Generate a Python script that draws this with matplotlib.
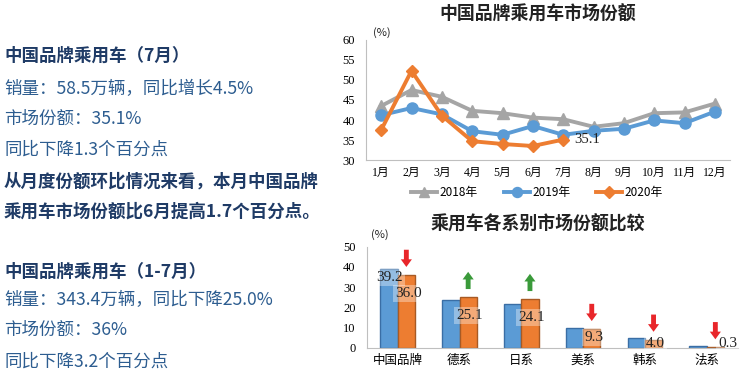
import numpy as np
import matplotlib
matplotlib.use('Agg')
import matplotlib.pyplot as plt

plt.rcParams['font.family'] = ['Noto Sans CJK SC', 'DejaVu Sans']

# ---- data ----
months = ['1月', '2月', '3月', '4月', '5月', '6月', '7月', '8月', '9月', '10月', '11月', '12月']
share_2018 = [43.5, 47.5, 45.8, 42.3, 41.7, 40.6, 40.2, 38.3, 39.2, 41.7, 41.9, 44.1]
share_2019 = [41.2, 43.0, 41.4, 37.2, 36.3, 38.5, 36.3, 37.3, 37.8, 39.9, 39.2, 42.1]
share_2020 = [37.5, 52.3, 41.1, 34.7, 34.0, 33.5, 35.1]

series_names = ['2018年', '2019年', '2020年']

brands = ['中国品牌', '德系', '日系', '美系', '韩系', '法系']
brand_2019 = [39.2, 23.8, 21.8, 9.7, 4.8, 1.1]
brand_2020 = [36.0, 25.1, 24.1, 9.3, 4.0, 0.3]

text_lines = [
    ('中国品牌乘用车（7月）', True),
    ('销量：58.5万辆，同比增长4.5%', False),
    ('市场份额：35.1%', False),
    ('同比下降1.3个百分点', False),
    ('从月度份额环比情况来看，本月中国品牌', True),
    ('乘用车市场份额比6月提高1.7个百分点。', True),
    ('中国品牌乘用车（1-7月）', True),
    ('销量：343.4万辆，同比下降25.0%', False),
    ('市场份额：36%', False),
    ('同比下降3.2个百分点', False),
]
text_y = [56, 89, 119, 150, 182, 212, 272, 300, 330, 362]

gray = '#a5a5a5'
blue = '#5b9bd5'
orange = '#ed7d31'
serif = ['Liberation Serif', 'Noto Sans CJK SC']

W, H = 744, 375
fig = plt.figure(figsize=(W / 100, H / 100), dpi=100)
fig.patch.set_facecolor('white')

# ---- left text block ----
for (s, bold), py in zip(text_lines, text_y):
    fig.text(4 / W, 1 - py / H, s, fontsize=12.6,
             fontweight='bold' if bold else 'normal',
             color='#1f3b66' if bold else '#2d5d90', va='center', ha='left')

# ---- top chart: monthly share ----
ax1 = fig.add_axes([366 / W, 1 - 160 / H, 364 / W, 120 / H])
x = np.arange(len(months))
ax1.plot(x, share_2018, color=gray, lw=2.8, marker='^', ms=8, label=series_names[0])
ax1.plot(x, share_2019, color=blue, lw=2.8, marker='o', ms=8, label=series_names[1])
ax1.plot(x[:len(share_2020)], share_2020, color=orange, lw=2.8, marker='D', ms=6.5,
         label=series_names[2])
ax1.annotate(f'{share_2020[-1]:.1f}', (len(share_2020) - 1, share_2020[-1]),
             xytext=(8, 0), textcoords='offset points', va='center',
             fontsize=10.5, family=serif, color='#222')
ax1.set_xlim(-0.5, len(months) - 0.5)
ax1.set_ylim(30, 60)
ax1.set_yticks(range(30, 61, 5))
ax1.set_xticks(x)
ax1.set_xticklabels(months, fontsize=8.5, family=serif)
for t in ax1.get_yticklabels():
    t.set_family(serif)
ax1.tick_params(axis='y', labelsize=9, length=0, pad=8)
ax1.tick_params(axis='x', length=0, pad=5)
for sp in ['top', 'right']:
    ax1.spines[sp].set_visible(False)
for sp in ['left', 'bottom']:
    ax1.spines[sp].set_color('#bfbfbf')
ax1.text(0.02, 1.06, '(%)', transform=ax1.transAxes, fontsize=8, va='center', color='#222')
ax1.legend(loc='upper center', bbox_to_anchor=(0.47, -0.13), ncol=3, frameon=False,
           fontsize=8.5, handlelength=2.2, columnspacing=2.2, handletextpad=0.2,
           markerscale=0.9)
fig.text(538 / W, 1 - 15 / H, '中国品牌乘用车市场份额', fontsize=12.9, fontweight='bold',
         ha='center', va='center', color='#222')

# ---- bottom chart: share by brand origin ----
ax2 = fig.add_axes([366.8 / W, 1 - 348 / H, 370.8 / W, 101.3 / H])
xb = np.arange(len(brands))
bw = 0.28
ax2.bar(xb - bw / 2, brand_2019, bw, color=blue, edgecolor='#3a6ea5', lw=1)
ax2.bar(xb + bw / 2, brand_2020, bw, color=orange, edgecolor='#a85a24', lw=1)

lab_box = dict(boxstyle='square,pad=0.15', facecolor='white', alpha=0.35, edgecolor='none')
ax2.text(xb[0] - bw / 2, brand_2019[0] - 4.5, f'{brand_2019[0]:.1f}', ha='center',
         va='center', fontsize=11, family=serif, bbox=lab_box, color='#222')
for i, v in enumerate(brand_2020):
    ly = max(v - 9, v * 0.55, 2.4)
    lx = xb[i] + bw / 2 + (0.2 if v < 1 else 0.03)
    ax2.text(lx, ly, f'{v:.1f}', ha='center', va='center', fontsize=11,
             family=serif, bbox=lab_box, color='#222')

# arrows: direction from 2019 -> 2020 change
for i, (a, b) in enumerate(zip(brand_2019, brand_2020)):
    up = b > a
    base, top = b + 4, b + 12.5
    ax2.annotate('', xy=(xb[i] + bw / 2, top if up else base),
                 xytext=(xb[i] + bw / 2, base if up else top),
                 arrowprops=dict(arrowstyle='simple,head_length=0.55,head_width=0.8,tail_width=0.35',
                                 color='#3a9a3a' if up else '#e8262a', lw=0,
                                 mutation_scale=10, shrinkA=0, shrinkB=0))

ax2.set_xlim(-0.5, len(brands) - 0.5)
ax2.set_ylim(0, 50)
ax2.set_yticks(range(0, 51, 10))
ax2.set_xticks(xb)
ax2.set_xticklabels(brands, fontsize=9, family=serif)
for t in ax2.get_yticklabels():
    t.set_family(serif)
ax2.tick_params(axis='y', labelsize=9, length=0, pad=8)
ax2.tick_params(axis='x', length=0, pad=5)
for sp in ['top', 'right']:
    ax2.spines[sp].set_visible(False)
for sp in ['left', 'bottom']:
    ax2.spines[sp].set_color('#bfbfbf')
ax2.text(0.01, 1.12, '(%)', transform=ax2.transAxes, fontsize=8, va='center', color='#222')
fig.text(538 / W, 1 - 224 / H, '乘用车各系别市场份额比较', fontsize=12.9, fontweight='bold',
         ha='center', va='center', color='#222')

fig.savefig('out.png', dpi=100)
